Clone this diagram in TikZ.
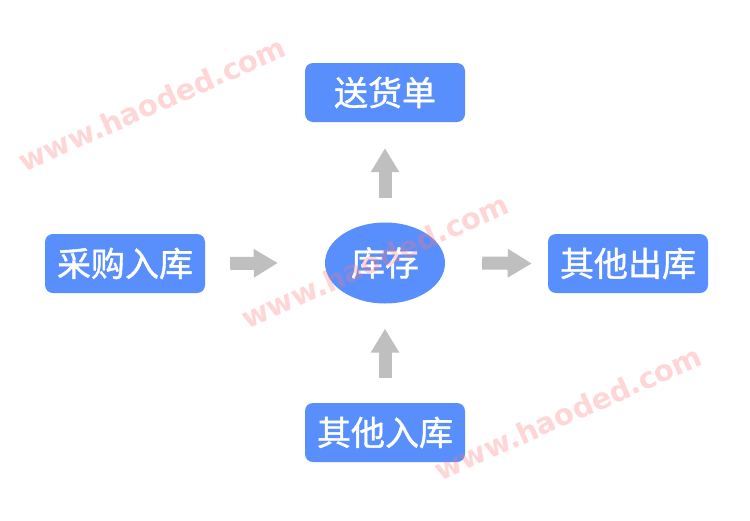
\documentclass[tikz,border=0pt]{standalone}
\usepackage{fontspec}
\newfontfamily\cjk[FakeBold=1.2]{Noto Sans CJK SC}
\newfontfamily\wmfont{DejaVu Sans}
\usetikzlibrary{shapes.geometric,arrows.meta,calc}
\definecolor{boxblue}{RGB}{88,143,252}
\definecolor{arrowgray}{RGB}{191,191,191}
\definecolor{wmpink}{RGB}{255,120,120}
\tikzset{
  box/.style={fill=boxblue, rounded corners=8pt, minimum width=160pt, minimum height=59pt,
    inner sep=0pt, text=white, font=\cjk\fontsize{34}{34}\selectfont},
  stockell/.style={ellipse, fill=boxblue, minimum width=120pt, minimum height=81pt,
    inner sep=0pt, text=white, font=\cjk\fontsize{34}{34}\selectfont},
  blockarrow/.style={draw=arrowgray, line width=13pt, line cap=butt,
    -{Triangle[length=24pt,width=27pt,fill=arrowgray]}},
  watermark/.style={text=wmpink, opacity=0.3, rotate=24, inner sep=0pt,
    font=\wmfont\bfseries\fontsize{29}{29}\selectfont}
}
\begin{document}
\begin{tikzpicture}[x=1pt,y=-1pt]
\useasboundingbox (0,0) rectangle (750,520);
\fill[white] (0,0) rectangle (750,520);
\node[box] (ship) at (385,92.5) {送货单};
\node[box] (purch) at (125,263.5) {采购入库};
\node[box] (oout) at (628,263.5) {其他出库};
\node[box] (oin) at (385,432.5) {其他入库};
\node[stockell] (stock) at (385,263) {库存};
% arrows
\draw[blockarrow] ($(purch.east)+(25,0)$) -- ($(stock.west)+(-47,0)$);
\draw[blockarrow] ($(stock.east)+(37,0)$) -- ($(oout.west)+(-16,0)$);
\draw[blockarrow] ($(stock.north)+(0,-24)$) -- ($(ship.south)+(0,26)$);
\draw[blockarrow] ($(oin.north)+(0,-25)$) -- ($(stock.south)+(0,25)$);
% watermarks
\node[watermark] (wm1) at (152,104) {www.haoded.com};
\node[watermark] (wm2) at (375,261) {www.haoded.com};
\node[watermark] (wm3) at (568,413) {www.haoded.com};
\end{tikzpicture}
\end{document}
